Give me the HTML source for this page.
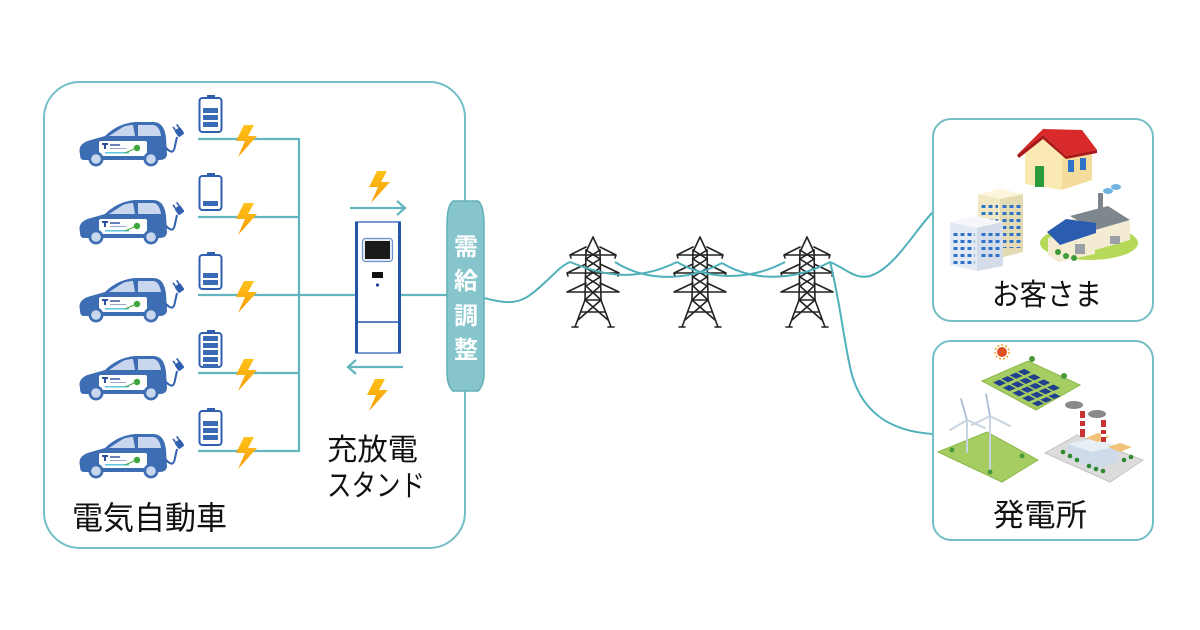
<!DOCTYPE html>
<html><head><meta charset="utf-8"><style>
html,body{margin:0;padding:0;background:#fff;}
svg{display:block;}
text{font-family:"Liberation Sans","Noto Sans CJK JP",sans-serif;}
</style></head><body>
<svg width="1200" height="630" viewBox="0 0 1200 630" xmlns="http://www.w3.org/2000/svg">
<defs>
  <linearGradient id="bolt" x1="0" y1="0" x2="0" y2="1">
    <stop offset="0" stop-color="#ffc21a"/><stop offset="1" stop-color="#f59a00"/>
  </linearGradient>
  <g id="car">
    <path d="M3,36 C1,29 5,24 14,22 L28,18 C36,10 46,5 58,4 L76,4 C84,4 88,10 89,20 L90,36 C90,40 87,42 83,42 L7,42 C4,42 3,40 3,36 Z" fill="#3d6db3"/>
    <path d="M32,18 L46,9 C49,8 52,7 56,7 L58,18 Z" fill="#c8d7ee"/>
    <path d="M61,7 L76,7 C80,7 83,11 84,18 L61,18 Z" fill="#c8d7ee"/>
    <rect x="22" y="23" width="48" height="15" rx="2" fill="#fff"/>
    <rect x="25" y="25" width="6" height="2" fill="#2b4f9c"/>
    <rect x="27" y="25" width="2" height="6" fill="#2b4f9c"/>
    <rect x="33" y="26" width="10" height="2" fill="#6a80b8"/>
    <rect x="33" y="30" width="16" height="1" fill="#9aa8cc"/>
    <rect x="28" y="34" width="24" height="1.5" fill="#5cc6e0"/>
    <circle cx="60" cy="30" r="3.2" fill="#3ea63a"/>
    <path d="M48,35 L57,31" stroke="#3ea63a" stroke-width="1"/>
    <circle cx="19" cy="41" r="7.5" fill="#3d6db3"/>
    <circle cx="19" cy="41" r="4.8" fill="#c8d7ee"/>
    <circle cx="74" cy="41" r="7.5" fill="#3d6db3"/>
    <circle cx="74" cy="41" r="4.8" fill="#c8d7ee"/>
    <path d="M89,30 C95,36 97,34 98,28 L100,19" stroke="#2f5fae" stroke-width="2" fill="none"/>
    <g transform="translate(103,15) rotate(-35)">
      <rect x="-3.5" y="-5" width="7" height="8" rx="1.5" fill="#2f5fae"/>
      <rect x="-3" y="-9" width="1.6" height="4" fill="#2f5fae"/>
      <rect x="1.4" y="-9" width="1.6" height="4" fill="#2f5fae"/>
    </g>
  </g>
  <path id="bz" d="M9,0 L19,0 L13,11 L22,11 L3,32 L10,16 L1,16 Z" fill="url(#bolt)"/>
  <g id="batt">
    <rect x="207" y="0" width="8" height="3" fill="#2f5fae"/>
    <rect x="199.5" y="3" width="22" height="34" rx="3" fill="#fff" stroke="#2f5fae" stroke-width="2"/>
  </g>
  <g id="tower" stroke="#222" stroke-width="1.6" fill="none" stroke-linecap="round">
    <path d="M0,237 L-7,252 M0,237 L7,252"/>
    <path d="M-23,255 L23,255 M-23,255 L-7,247 M23,255 L7,247 M-23,255 L-22,258 M23,255 L22,258"/>
    <path d="M-26,273 L26,273 M-26,273 L-7,264 M26,273 L7,264 M-26,273 L-25,276 M26,273 L25,276"/>
    <path d="M-26,292 L26,292 M-26,292 L-7,283 M26,292 L7,283"/>
    <path d="M-7,250 L-8,300 M7,250 L8,300"/>
    <path d="M-7,250 L7,259 L-7,268 L7,277 L-7,286 L8,300 M7,250 L-7,259 L7,268 L-7,277 L7,286 L-8,300"/>
    <path d="M-8,300 L-18,327 M8,300 L18,327 M-8,300 L8,300 M-12,312 L12,312 M-8,300 L15,320 M8,300 L-15,320 M-21,327 L-15,327 M15,327 L21,327"/>
  </g>
  <pattern id="winA" x="0" y="0" width="7" height="7" patternUnits="userSpaceOnUse">
    <rect x="1.5" y="2" width="4" height="3" fill="#2f73c9"/>
  </pattern>
</defs>

<!-- Main box -->
<rect x="44" y="82" width="421" height="466" rx="36" fill="none" stroke="#74bec7" stroke-width="2"/>

<!-- Cars -->
<use href="#car" x="77" y="118"/>
<use href="#car" x="77" y="196"/>
<use href="#car" x="77" y="274"/>
<use href="#car" x="77" y="352"/>
<use href="#car" x="77" y="430"/>

<!-- Batteries -->
<g fill="#3a6bb5">
  <use href="#batt" y="95"/>
  <rect x="203" y="108" width="15" height="5"/><rect x="203" y="115" width="15" height="5"/><rect x="203" y="122" width="15" height="5"/>
  <use href="#batt" y="173"/>
  <rect x="203" y="201" width="15" height="5"/>
  <use href="#batt" y="252"/>
  <rect x="203" y="273" width="15" height="5"/><rect x="203" y="280" width="15" height="5"/>
  <use href="#batt" y="330"/>
  <rect x="203" y="336" width="15" height="5"/><rect x="203" y="343" width="15" height="5"/><rect x="203" y="350" width="15" height="5"/><rect x="203" y="357" width="15" height="5"/><rect x="203" y="364" width="15" height="4"/>
  <use href="#batt" y="408"/>
  <rect x="203" y="421" width="15" height="5"/><rect x="203" y="428" width="15" height="5"/><rect x="203" y="435" width="15" height="5"/>
</g>

<!-- Bus lines -->
<g stroke="#62b5bf" stroke-width="2.2" fill="none">
  <path d="M198,139 H299 M198,217 H299 M198,295 H299 M198,373 H299 M198,451 H299 M299,138 V452"/>
  <path d="M299,295 H356 M400,295 H450"/>
  <path d="M350,208 H405 M397,201 L405,208 L397,215"/>
  <path d="M403,367 H348 M356,360 L348,367 L356,374"/>
</g>

<!-- Bolts -->
<use href="#bz" x="235" y="125"/>
<use href="#bz" x="235" y="203"/>
<use href="#bz" x="235" y="281"/>
<use href="#bz" x="235" y="359"/>
<use href="#bz" x="235" y="437"/>
<use href="#bz" x="368" y="171"/>
<use href="#bz" x="366" y="379"/>

<!-- Station -->
<rect x="356" y="222" width="44" height="131" fill="#fff" stroke="#4a78c0" stroke-width="1.5"/>
<rect x="355" y="222" width="3" height="131" fill="#2456a8"/>
<rect x="398" y="222" width="3" height="131" fill="#2456a8"/>
<line x1="357" y1="322" x2="399" y2="322" stroke="#2456a8" stroke-width="1.5"/>
<rect x="362.5" y="238.5" width="30" height="23" rx="3" fill="#e8eef8" stroke="#6f90cc" stroke-width="1.2"/>
<rect x="365" y="241" width="25" height="18" fill="#1a1a1a"/>
<rect x="372" y="272" width="11" height="6" fill="#111"/>
<circle cx="377.5" cy="285" r="1.6" fill="#1f3f8f"/>

<!-- Demand pill -->
<path d="M453,201 L478,201 Q484,205 484,225 L484,372 Q484,386 478,391 L453,391 Q447,386 447,372 L447,225 Q447,205 453,201 Z" fill="#86c5cb" stroke="#62b0b9" stroke-width="1.5"/>
<g fill="#fff" font-size="24" font-weight="bold" text-anchor="middle">
  <text x="466" y="255">需</text>
  <text x="466" y="289">給</text>
  <text x="466" y="324">調</text>
  <text x="466" y="358">整</text>
</g>

<!-- Towers -->
<use href="#tower" x="593"/>
<use href="#tower" x="700"/>
<use href="#tower" x="807"/>

<!-- Wires -->
<g stroke="#4fb0bb" stroke-width="2" fill="none">
  <path d="M484,298 C500,302 515,306 530,295 C548,282 558,267 570,262"/>
  <path d="M570,262 C595,272 630,285 677,262"/>
  <path d="M615,262 C640,278 680,285 722,263"/>
  <path d="M677,262 C705,278 745,283 785,262"/>
  <path d="M722,263 C750,280 790,283 830,262"/>
  <path d="M830,262 C845,268 855,280 870,276 C895,268 915,230 933,212"/>
  <path d="M830,262 C840,300 845,350 852,375 C865,420 900,432 933,434"/>
</g>

<!-- Labels left -->
<g fill="#111">
  <text x="72" y="529" font-size="32" textLength="155" lengthAdjust="spacingAndGlyphs">電気自動車</text>
  <text x="327" y="460" font-size="30" textLength="91" lengthAdjust="spacingAndGlyphs">充放電</text>
  <text x="327" y="496" font-size="30" textLength="98" lengthAdjust="spacingAndGlyphs">スタンド</text>
</g>

<!-- Right boxes -->
<rect x="933" y="119" width="220" height="202" rx="18" fill="none" stroke="#74bec7" stroke-width="2"/>
<rect x="933" y="341" width="220" height="199" rx="18" fill="none" stroke="#74bec7" stroke-width="2"/>

<!-- House -->
<polygon points="1062,152 1092,146 1092,180 1062,190" fill="#f4dc9c"/>
<polygon points="1025,153 1043,137 1062,153 1062,190 1025,184" fill="#fbe9b4"/>
<rect x="1035" y="166" width="9" height="21" fill="#2a9a3a"/>
<rect x="1068" y="160" width="6" height="12" fill="#2f73c9"/>
<rect x="1080" y="158" width="6" height="12" fill="#2f73c9"/>
<polygon points="1017,155 1043,129 1082,130 1097,150 1066,156 1043,135" fill="#d82a2a"/>
<polygon points="1043,135 1066,156 1097,150 1097,153 1066,159 1043,139 1019,158 1017,155" fill="#a81818"/>

<!-- Office buildings -->
<polygon points="978,194 1000,189 1023,194 1000,199" fill="#fbf5dc"/>
<polygon points="978,194 1000,199 1000,258 978,254" fill="#f1e8c4"/>
<polygon points="1000,199 1023,194 1023,252 1000,258" fill="#e4dbb2"/>
<rect x="980" y="202" width="18" height="50" fill="url(#winA)"/>
<rect x="1002" y="202" width="19" height="46" fill="url(#winA)"/>
<polygon points="950,222 976,216 1003,222 977,228" fill="#f5f7fb"/>
<polygon points="950,222 977,228 977,271 950,265" fill="#e4eaf3"/>
<polygon points="977,228 1003,222 1003,266 977,271" fill="#d4dcea"/>
<rect x="952" y="230" width="23" height="34" fill="url(#winA)"/>
<rect x="979" y="230" width="22" height="30" fill="url(#winA)"/>

<!-- Factory -->
<ellipse cx="1089" cy="243" rx="49" ry="17" fill="#b7d95a"/>
<rect x="1098" y="193" width="5" height="22" fill="#7c848c"/>
<ellipse cx="1108" cy="191" rx="5" ry="3" fill="#6fb3e0"/>
<ellipse cx="1116" cy="187" rx="5" ry="3" fill="#6fb3e0"/>
<polygon points="1072,218 1110,208 1130,222 1130,240 1095,250 1072,235" fill="#f3ecd2"/>
<polygon points="1070,216 1108,206 1130,220 1095,230" fill="#7e868e"/>
<polygon points="1048,238 1095,226 1095,254 1058,262 1048,255" fill="#f3ecd2"/>
<polygon points="1047,232 1066,219 1096,223 1096,233 1060,245" fill="#2a5db0"/>
<rect x="1075" y="244" width="10" height="10" fill="#9aa0a6"/>
<rect x="1110" y="236" width="10" height="8" fill="#9aa0a6"/>
<circle cx="1058" cy="252" r="3" fill="#3e9a3a"/><circle cx="1066" cy="256" r="3" fill="#3e9a3a"/><circle cx="1074" cy="258" r="3" fill="#3e9a3a"/>

<text x="992" y="305" font-size="30" fill="#111" textLength="110" lengthAdjust="spacingAndGlyphs">お客さま</text>

<!-- Power plants -->
<circle cx="1002" cy="352" r="5" fill="#e05020"/>
<circle cx="1002" cy="352" r="7" fill="none" stroke="#f2a020" stroke-width="1.5" stroke-dasharray="2 2"/>
<polygon points="982,381 1028,361 1080,385 1036,410" fill="#a6cd62" stroke="#8cb84a" stroke-width="1"/>
<g transform="matrix(46,-20,54,29,982,381)" fill="#1f3f8f">
  <rect x="0.10" y="0.12" width="0.14" height="0.12"/><rect x="0.28" y="0.12" width="0.14" height="0.12"/><rect x="0.46" y="0.12" width="0.14" height="0.12"/><rect x="0.64" y="0.12" width="0.14" height="0.12"/>
  <rect x="0.10" y="0.30" width="0.14" height="0.12"/><rect x="0.28" y="0.30" width="0.14" height="0.12"/><rect x="0.46" y="0.30" width="0.14" height="0.12"/><rect x="0.64" y="0.30" width="0.14" height="0.12"/>
  <rect x="0.10" y="0.48" width="0.14" height="0.12"/><rect x="0.28" y="0.48" width="0.14" height="0.12"/><rect x="0.46" y="0.48" width="0.14" height="0.12"/><rect x="0.64" y="0.48" width="0.14" height="0.12"/>
  <rect x="0.10" y="0.66" width="0.14" height="0.12"/><rect x="0.28" y="0.66" width="0.14" height="0.12"/><rect x="0.46" y="0.66" width="0.14" height="0.12"/><rect x="0.64" y="0.66" width="0.14" height="0.12"/>
  <rect x="0.10" y="0.84" width="0.14" height="0.10"/><rect x="0.28" y="0.84" width="0.14" height="0.10"/><rect x="0.46" y="0.84" width="0.14" height="0.10"/>
</g>
<circle cx="1032" cy="359" r="3" fill="#4a9a3a"/><circle cx="1064" cy="376" r="3" fill="#4a9a3a"/>

<polygon points="938,452 987,432 1038,460 1002,482" fill="#a6cd62" stroke="#8cb84a" stroke-width="1"/>
<g stroke="#c8d4e2" stroke-width="2" fill="none" stroke-linecap="round">
  <path d="M967,420 V452 M990,416 V470"/>
  <path d="M967,420 L961,399 M967,420 L950,430 M967,420 L985,428"/>
  <path d="M990,416 L986,394 M990,416 L972,425 M990,416 L1010,426"/>
</g>
<g stroke="#9fb6d2" stroke-width="1" fill="none">
  <path d="M967,420 L961,399 M990,416 L986,394"/>
</g>
<circle cx="952" cy="450" r="2.5" fill="#4a9a3a"/><circle cx="1022" cy="456" r="2.5" fill="#4a9a3a"/><circle cx="990" cy="472" r="2.5" fill="#4a9a3a"/>

<polygon points="1045,453 1077,435 1143,460 1110,482" fill="#dcdcdc" stroke="#c2c2c2" stroke-width="1"/>
<polygon points="1068,444 1094,438 1118,446 1118,462 1094,470 1068,458" fill="#cfdbe8"/>
<polygon points="1068,444 1094,438 1118,446 1092,452" fill="#e8eef5"/>
<polygon points="1086,438 1098,433 1110,437 1098,442" fill="#f2c27a"/>
<polygon points="1108,447 1120,443 1132,447 1120,452" fill="#f2c27a"/>
<rect x="1080" y="411" width="5" height="26" fill="#c83232"/>
<rect x="1080" y="418" width="5" height="3" fill="#fff"/><rect x="1080" y="426" width="5" height="3" fill="#fff"/>
<rect x="1101" y="420" width="5" height="22" fill="#c83232"/>
<rect x="1101" y="427" width="5" height="3" fill="#fff"/><rect x="1101" y="434" width="5" height="3" fill="#fff"/>
<ellipse cx="1074" cy="405" rx="9" ry="4" fill="#8a8a8a"/>
<ellipse cx="1097" cy="414" rx="9" ry="4" fill="#8a8a8a"/>
<g fill="#2e8a2e">
  <circle cx="1063" cy="452" r="2.3"/><circle cx="1070" cy="456" r="2.3"/><circle cx="1077" cy="460" r="2.3"/>
  <circle cx="1089" cy="466" r="2.3"/><circle cx="1096" cy="469" r="2.3"/><circle cx="1103" cy="471" r="2.3"/>
  <circle cx="1124" cy="460" r="2.3"/><circle cx="1131" cy="457" r="2.3"/>
</g>

<text x="993" y="526" font-size="31" fill="#111" textLength="94" lengthAdjust="spacingAndGlyphs">発電所</text>
</svg>
</body></html>
